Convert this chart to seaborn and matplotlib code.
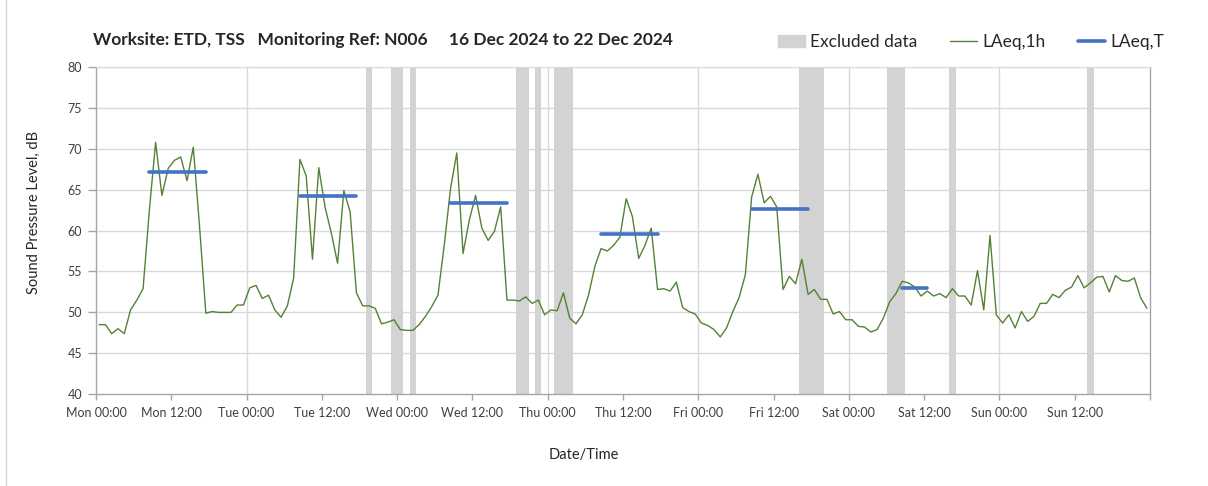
import numpy as np
import pandas as pd
import seaborn as sns
import matplotlib.pyplot as plt
from matplotlib.patches import Patch
from matplotlib.lines import Line2D

# hourly LAeq,1h values, Mon 00:00 .. Sun 23:00 (168 hours)
laeq_1h = [
    # Mon
    48.5, 48.5, 47.4, 48.0, 47.4, 50.3, 51.5, 52.9, 62.5, 70.8, 64.3, 67.6,
    68.6, 69.0, 66.1, 70.2, 60.5, 49.9, 50.1, 50.0, 50.0, 50.0, 50.9, 50.9,
    # Tue
    53.0, 53.3, 51.7, 52.1, 50.3, 49.4, 50.8, 54.2, 68.7, 66.7, 56.5, 67.7,
    62.9, 59.7, 56.0, 64.9, 62.3, 52.4, 50.8, 50.8, 50.5, 48.6, 48.8, 49.1,
    # Wed
    47.9, 47.8, 47.8, 48.5, 49.5, 50.7, 52.1, 58.2, 65.1, 69.5, 57.2, 61.3,
    64.3, 60.3, 58.8, 59.9, 62.9, 51.5, 51.5, 51.4, 51.9, 51.1, 51.5, 49.7,
    # Thu
    50.3, 50.2, 52.4, 49.3, 48.6, 49.7, 52.1, 55.6, 57.8, 57.5, 58.2, 59.2,
    63.9, 61.7, 56.6, 58.2, 60.3, 52.8, 52.9, 52.6, 53.7, 50.6, 50.1, 49.8,
    # Fri
    48.7, 48.4, 47.9, 47.0, 48.1, 50.1, 51.8, 54.6, 64.1, 66.9, 63.4, 64.2,
    62.9, 52.8, 54.4, 53.5, 56.5, 52.2, 52.8, 51.6, 51.6, 49.8, 50.1, 49.1,
    # Sat
    49.1, 48.3, 48.2, 47.6, 47.9, 49.3, 51.3, 52.3, 53.8, 53.6, 53.1, 52.0,
    52.6, 52.0, 52.3, 51.8, 52.9, 52.0, 52.0, 50.9, 55.1, 50.3, 59.4, 49.7,
    # Sun
    48.7, 49.7, 48.1, 50.1, 48.9, 49.5, 51.1, 51.1, 52.2, 51.8, 52.7, 53.1,
    54.5, 53.0, 53.6, 54.3, 54.4, 52.5, 54.5, 53.9, 53.8, 54.2, 51.8, 50.5,
]

# LAeq,T periods (start hour, end hour, level)
period_start = [8, 32, 56, 80, 104, 128]
period_end = [17, 41, 65, 89, 113, 132]
period_level = [67.2, 64.2, 63.4, 59.6, 62.7, 53.0]

# hours flagged as excluded
excluded_hours = [43, 47, 48, 50, 67, 68, 70, 73, 74, 75,
                  112, 113, 114, 115, 126, 127, 128, 136, 158]

days = ['Mon', 'Tue', 'Wed', 'Thu', 'Fri', 'Sat', 'Sun']
times = ['00:00', '12:00']

green = '#548235'
blue = '#4472C4'
grey_band = '#D3D3D3'
grid_col = '#D9D9D9'

"""
Build data frames
"""
hourly = pd.DataFrame({'hour': np.arange(len(laeq_1h)) + 0.5,
                       'level': laeq_1h})

rows = []
for i, (s, e, v) in enumerate(zip(period_start, period_end, period_level)):
    rows.append({'period': i, 'hour': s + 0.5, 'level': v})
    rows.append({'period': i, 'hour': e + 0.5, 'level': v})
periods = pd.DataFrame(rows)

"""
Plot
"""
sns.set_style('white')
plt.rcParams['font.family'] = ['Lato', 'DejaVu Sans']

fig = plt.figure(figsize=(12.08, 4.86), dpi=100)
ax = fig.add_axes([0.0795, 0.189, 0.8725, 0.673])

# gridlines
for yv in range(45, 85, 5):
    ax.axhline(yv, color=grid_col, lw=1, zorder=0)
for d in range(1, 7):
    ax.axvline(d * 24, color=grid_col, lw=1, zorder=0)

# excluded data bands
ax.bar(excluded_hours, [40] * len(excluded_hours), bottom=40, width=1,
       align='edge', color=grey_band, linewidth=0, zorder=1)

sns.lineplot(data=hourly, x='hour', y='level', color=green, lw=1,
             ax=ax, zorder=3, legend=False)
sns.lineplot(data=periods, x='hour', y='level', units='period',
             estimator=None, color=blue, lw=2.6, ax=ax, zorder=4,
             legend=False)

ax.set_xlim(0, 168)
ax.set_ylim(40, 80)
ax.set_yticks(range(40, 85, 5))
ticks = list(range(0, 169, 12))
labels = [f'{d} {t}' for d in days for t in times] + ['']
ax.set_xticks(ticks)
ax.set_xticklabels(labels)
ax.tick_params(axis='x', length=4, width=1, color='#A6A6A6', pad=5,
               labelsize=9, labelcolor='#404040', bottom=True)
ax.tick_params(axis='y', length=6, width=1, color='#A6A6A6', pad=4,
               labelsize=9, labelcolor='#404040', left=True)

for side in ['left', 'bottom', 'right']:
    ax.spines[side].set_color('#A6A6A6')
    ax.spines[side].set_linewidth(1)
ax.spines['top'].set_color(grid_col)

ax.set_xlabel('Date/Time', fontsize=10.5, color='#262626')
ax.set_ylabel('Sound Pressure Level, dB', fontsize=10.5, color='#262626')
ax.xaxis.set_label_coords(0.463, -0.165)
ax.yaxis.set_label_coords(-0.052, 0.557)

fig.text(93 / 1208, 1 - 40 / 486,
         'Worksite: ETD, TSS   Monitoring Ref: N006     16 Dec 2024 to 22 Dec 2024',
         fontsize=12.5, fontweight='bold', ha='left', va='center')

handles = [Patch(color=grey_band),
           Line2D([], [], color=green, lw=1),
           Line2D([], [], color=blue, lw=2.6)]
fig.legend(handles, ['Excluded data', 'LAeq,1h', 'LAeq,T'],
           loc='center left', bbox_to_anchor=(762 / 1208, 1 - 42 / 486),
           ncol=3, frameon=False, fontsize=12.5, handlelength=1.55,
           handletextpad=0.3, columnspacing=1.9, labelcolor='#262626')

# chart area border on the left
fig.add_artist(Line2D([6 / 1208, 6 / 1208], [0, 1], color=grid_col, lw=1))

plt.savefig('out.png', dpi=100)
